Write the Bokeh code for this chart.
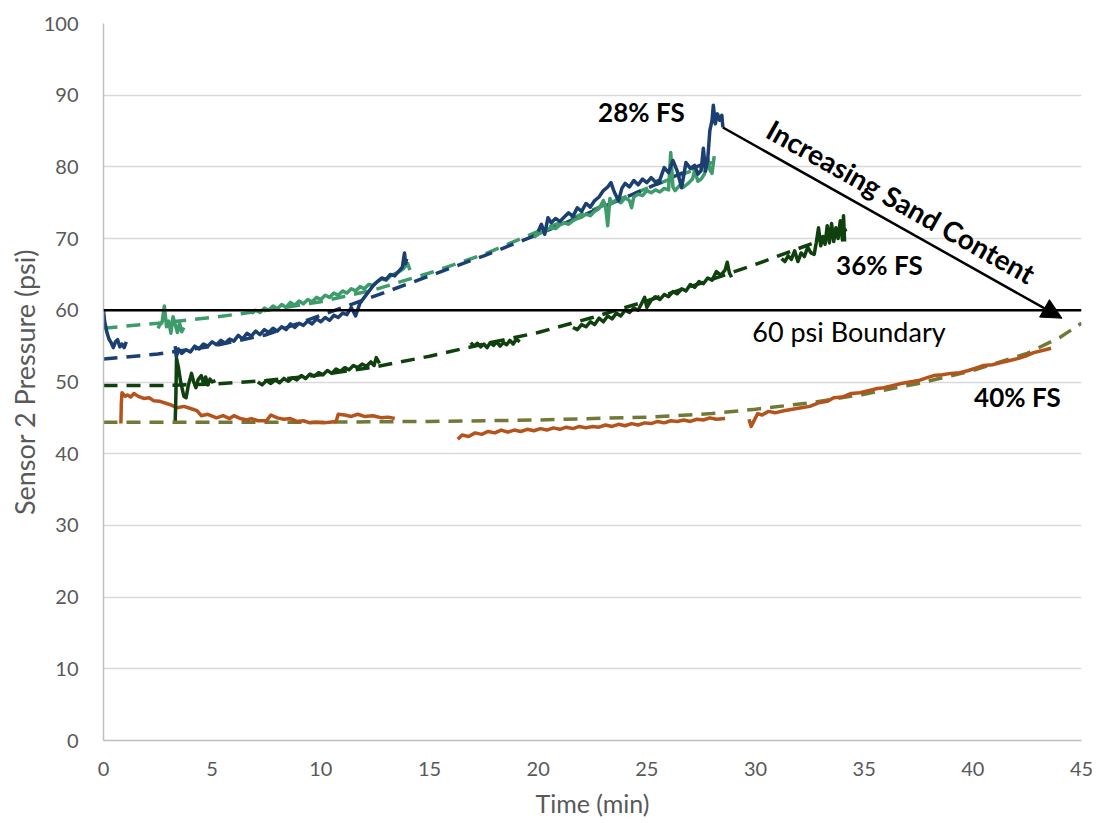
from bokeh.plotting import figure
from bokeh.models import Range1d, FixedTicker, Span, Arrow, NormalHead, Label
from bokeh.embed import file_html
from bokeh.resources import INLINE
import math

# ---------------- data ----------------
x_ticks = [0, 5, 10, 15, 20, 25, 30, 35, 40, 45]
y_ticks = [0, 10, 20, 30, 40, 50, 60, 70, 80, 90, 100]

boundary_psi = 60

# 28% FS (dark blue) measured segments
blue_x = [
    [0, 0.05, 0.15, 0.25, 0.35, 0.45, 0.55, 0.65, 0.75, 0.85, 0.95, 1.05],
    [3.3, 3.35, 3.45, 3.6, 3.8, 4.0, 4.2, 4.4, 4.6, 4.8, 5.0, 5.2, 5.4, 5.6, 5.8, 6.0, 6.2, 6.4, 6.6, 6.8,
     7.0, 7.2, 7.4, 7.6, 7.8, 8.0, 8.2, 8.4, 8.6, 8.8, 9.0, 9.2, 9.4, 9.6, 9.8, 10.0, 10.2, 10.4, 10.6,
     10.8, 11.0, 11.2, 11.4, 11.6, 11.8, 12.0, 12.2, 12.4, 12.6, 12.8, 13.0, 13.2, 13.4, 13.6, 13.75,
     13.85, 13.9, 13.95],
    [20.0, 20.15, 20.3, 20.45, 20.6, 20.8, 21.0, 21.2, 21.4, 21.6, 21.8, 22.0, 22.2, 22.4, 22.6, 22.8,
     23.0, 23.2, 23.35, 23.5, 23.7, 23.85, 24.0, 24.2, 24.4, 24.6, 24.8, 25.0, 25.2, 25.4, 25.6, 25.8,
     26.0, 26.2, 26.4, 26.6, 26.8, 27.0, 27.2, 27.35, 27.5, 27.6, 27.7, 27.8, 27.9, 28.0, 28.06, 28.15,
     28.25, 28.35, 28.45, 28.5],
]
blue_y = [
    [60, 58.5, 57.0, 56.0, 55.5, 54.8, 55.6, 55.9, 54.9, 55.3, 54.8, 55.6],
    [55.0, 53.5, 54.6, 54.0, 54.5, 54.2, 55.0, 54.6, 55.3, 55.0, 55.6, 55.2, 55.8, 55.4, 56.0, 55.7,
     56.5, 56.0, 56.8, 56.4, 57.1, 56.6, 57.3, 56.9, 57.5, 57.1, 57.7, 57.3, 58.1, 57.6, 58.2, 57.9,
     58.5, 58.1, 58.8, 58.4, 59.0, 58.6, 59.3, 59.0, 59.6, 59.4, 60.4, 59.2, 61.0, 61.8, 62.6, 63.4,
     64.0, 64.5, 64.3, 65.0, 64.8, 65.5, 66.0, 68.0, 66.5, 67.2],
    [71.0, 72.0, 70.6, 72.9, 72.2, 72.8, 72.4, 73.0, 73.6, 73.1, 74.3, 73.8, 74.9, 74.4, 75.3, 75.8,
     76.7, 77.2, 77.8, 76.5, 75.3, 77.0, 77.7, 77.2, 78.1, 77.5, 78.3, 77.8, 78.5, 77.9, 78.2, 79.9,
     79.2, 80.9, 79.4, 77.1, 80.6, 79.8, 80.2, 79.0, 79.5, 82.6, 79.4, 81.0, 85.1, 86.5, 88.6, 86.0,
     87.4, 86.5, 87.2, 85.5],
]

# second low-sand series (teal green) measured segments
teal_x = [
    [2.5, 2.6, 2.7, 2.8, 2.9, 3.0, 3.1, 3.2, 3.3, 3.4, 3.5, 3.6, 3.7],
    [6.8, 7.0, 7.2, 7.4, 7.6, 7.8, 8.0, 8.2, 8.4, 8.6, 8.8, 9.0, 9.2, 9.4, 9.6, 9.8, 10.0, 10.2, 10.4,
     10.6, 10.8, 11.0, 11.2, 11.4, 11.6, 11.8, 12.0, 12.2, 12.4, 12.6, 12.8, 13.0, 13.2, 13.4, 13.6,
     13.8, 14.0, 14.1],
    [19.8, 20.0, 20.2, 20.4, 20.6, 20.8, 21.0, 21.2, 21.4, 21.6, 21.8, 22.0, 22.2, 22.4, 22.6, 22.8,
     23.0, 23.1, 23.2, 23.3, 23.4, 23.6, 23.8, 24.0, 24.2, 24.3, 24.4, 24.6, 24.8, 25.0, 25.2, 25.4,
     25.6, 25.8, 26.0, 26.1, 26.2, 26.3, 26.5, 26.7, 26.9, 27.1, 27.2, 27.35, 27.5, 27.65, 27.8, 27.9,
     28.0, 28.1],
]
teal_y = [
    [57.5, 58.0, 58.4, 60.6, 57.7, 58.5, 56.8, 59.1, 58.0, 56.9, 58.2, 57.0, 57.6],
    [59.6, 60.0, 59.7, 60.3, 60.0, 60.6, 60.2, 60.8, 60.4, 61.1, 60.7, 61.3, 60.9, 61.5, 61.2, 61.8,
     61.5, 62.1, 61.8, 62.4, 62.1, 62.7, 62.4, 63.0, 62.7, 63.3, 63.0, 63.6, 63.5, 64.0, 64.4, 64.2,
     64.8, 65.1, 65.4, 65.8, 66.5, 65.6],
    [70.2, 70.6, 70.9, 71.2, 71.6, 71.4, 71.9, 72.2, 72.0, 72.5, 72.8, 73.0, 73.4, 73.2, 73.8, 74.2,
     75.3, 74.5, 71.8, 75.6, 74.9, 75.4, 75.0, 75.7, 75.3, 74.3, 75.8, 76.2, 76.0, 76.7, 76.4, 76.8,
     76.5, 77.0, 76.8, 82.0, 77.2, 76.7, 77.4, 77.2, 77.7, 78.3, 79.5, 78.0, 78.3, 79.0, 81.2, 79.6,
     79.1, 81.5],
]

# 36% FS (dark green) measured segments
green_x = [
    [3.3, 3.33, 3.36, 3.45, 3.55, 3.7, 3.8, 3.9, 4.05, 4.15, 4.25, 4.35, 4.5, 4.6, 4.7, 4.8, 4.9, 5.0, 5.15],
    [7.1, 7.3, 7.5, 7.7, 7.9, 8.1, 8.3, 8.5, 8.7, 8.9, 9.1, 9.3, 9.5, 9.7, 9.9, 10.1, 10.3, 10.5, 10.7,
     10.9, 11.1, 11.3, 11.5, 11.7, 11.9, 12.1, 12.3, 12.45, 12.55, 12.7],
    [16.9, 17.05, 17.2, 17.35, 17.5, 17.65, 17.8, 17.95, 18.1, 18.25, 18.4, 18.55, 18.7, 18.85, 19.0, 19.15],
    [21.6, 21.8, 22.0, 22.2, 22.4, 22.6, 22.8, 23.0, 23.2, 23.4, 23.6, 23.8, 24.0, 24.2, 24.4, 24.6,
     24.8, 24.9, 25.0, 25.2, 25.4, 25.6, 25.8, 26.0, 26.2, 26.4, 26.6, 26.8, 27.0, 27.2, 27.4, 27.6,
     27.8, 28.0, 28.2, 28.4, 28.6, 28.7, 28.8, 28.9],
    [31.2, 31.35, 31.5, 31.65, 31.8, 31.95, 32.1, 32.25, 32.4, 32.55, 32.7, 32.8, 32.9, 33.0, 33.1,
     33.2, 33.3, 33.4, 33.5, 33.6, 33.7, 33.8, 33.9, 34.0, 34.05, 34.1],
]
green_y = [
    [44.6, 48.0, 53.3, 52.0, 50.0, 48.0, 47.8, 49.5, 51.2, 50.0, 49.2, 50.3, 50.9, 49.8, 50.7, 49.6, 50.4, 50.0, 50.2],
    [50.0, 49.6, 50.2, 49.8, 50.3, 49.9, 50.5, 50.1, 50.6, 50.3, 50.9, 50.5, 51.1, 50.8, 51.3, 51.0,
     51.6, 51.2, 51.8, 51.5, 52.0, 51.7, 52.3, 52.0, 52.5, 52.2, 52.8, 52.3, 53.4, 52.6],
    [55.5, 55.0, 55.4, 54.9, 55.3, 54.8, 55.5, 55.1, 55.6, 55.0, 55.5, 55.2, 55.8, 55.3, 56.0, 55.6],
    [57.6, 57.3, 58.0, 57.7, 58.4, 58.0, 58.9, 58.4, 59.2, 58.8, 59.6, 59.2, 60.0, 59.7, 60.3, 60.0,
     61.2, 61.8, 60.4, 61.4, 61.9, 61.5, 62.2, 61.9, 62.6, 62.3, 63.0, 62.7, 63.6, 63.2, 64.0, 63.7,
     64.5, 64.2, 65.4, 64.9, 65.6, 66.7, 65.2, 64.6],
    [67.2, 66.8, 67.6, 67.1, 68.3, 66.8, 68.0, 67.5, 68.8, 68.0, 67.8, 69.5, 71.5, 69.0, 70.3, 69.2,
     71.8, 69.4, 72.1, 69.6, 71.5, 70.0, 72.5, 69.8, 73.2, 69.6],
]

# 40% FS (orange) measured segments
orange_x = [
    [0.8, 0.82, 0.85, 1.0, 1.1, 1.25, 1.4, 1.6, 1.85, 2.1, 2.3, 2.6, 2.9, 3.1, 3.4, 3.7, 4.0, 4.3, 4.5,
     4.8, 5.2, 5.5, 5.8, 6.0, 6.3, 6.6, 6.8, 7.1, 7.5, 7.7, 8.0, 8.3, 8.6, 8.9, 9.2, 9.5, 9.8, 10.1,
     10.4, 10.7, 10.8, 11.1, 11.4, 11.7, 12.0, 12.4, 12.8, 13.1, 13.4],
    [16.3, 16.5, 16.8, 17.1, 17.4, 17.7, 18.0, 18.3, 18.6, 18.9, 19.2, 19.5, 19.8, 20.1, 20.4, 20.7,
     21.0, 21.3, 21.6, 21.9, 22.2, 22.5, 22.8, 23.1, 23.4, 23.7, 24.0, 24.3, 24.6, 24.9, 25.2, 25.5,
     25.8, 26.1, 26.4, 26.7, 27.0, 27.3, 27.6, 27.9, 28.2, 28.6],
    [29.7, 29.8, 29.9, 30.1, 30.3, 30.6, 30.9, 31.3, 31.7, 32.1, 32.5, 32.9, 33.3, 33.6, 34.0, 34.4,
     34.8, 35.2, 35.6, 35.9, 36.3, 36.7, 37.1, 37.5, 37.9, 38.2, 38.6, 39.0, 39.4, 39.8, 40.2, 40.5,
     40.9, 41.3, 41.7, 42.1, 42.5, 42.8, 43.2, 43.6],
]
orange_y = [
    [44.2, 47.0, 48.5, 48.0, 48.2, 47.9, 48.4, 48.0, 47.7, 47.8, 47.4, 47.3, 47.0, 46.8, 46.4, 46.6,
     46.3, 46.0, 45.3, 45.5, 45.0, 45.3, 44.9, 45.3, 44.9, 44.7, 44.9, 44.6, 44.6, 45.4, 45.0, 44.8,
     44.9, 44.5, 44.6, 44.3, 44.4, 44.3, 44.4, 44.5, 45.5, 45.4, 45.2, 45.5, 45.2, 45.3, 45.0, 45.1, 44.9],
    [42.0, 42.6, 42.4, 42.9, 42.7, 43.1, 42.9, 43.3, 43.0, 43.3, 43.1, 43.4, 43.2, 43.5, 43.3, 43.6,
     43.4, 43.7, 43.5, 43.8, 43.6, 43.8, 43.7, 44.0, 43.8, 44.1, 43.9, 44.2, 44.0, 44.3, 44.2, 44.5,
     44.3, 44.6, 44.5, 44.7, 44.5, 44.8, 44.7, 45.0, 44.8, 44.9],
    [44.8, 43.8, 44.4, 45.6, 45.4, 45.9, 45.7, 46.0, 46.2, 46.4, 46.6, 47.1, 47.3, 47.8, 47.9, 48.4,
     48.5, 48.8, 49.1, 49.2, 49.5, 49.8, 50.0, 50.2, 50.6, 50.9, 51.0, 51.2, 51.3, 51.6, 52.0, 52.3,
     52.4, 52.7, 53.0, 53.3, 53.7, 54.1, 54.4, 54.7],
]

# trend (fit) curves
teal_fit_x = [0, 2.5, 5, 7.5, 10, 12.5, 15, 17.5, 20, 22.5, 25, 27.5, 28.3]
teal_fit_y = [57.5, 58.2, 59.0, 60.0, 61.2, 62.9, 65.2, 67.8, 71.0, 74.0, 77.0, 80.0, 81.0]
blue_fit_x = [0, 2.5, 5, 7.5, 10, 12.5, 15, 17.5, 20, 22.5, 25, 27.5, 28.0]
blue_fit_y = [53.2, 53.9, 55.0, 56.6, 59.3, 62.0, 64.8, 67.6, 70.6, 73.8, 77.0, 80.3, 81.0]
green_fit_x = [0, 2.5, 5, 7.5, 10, 12.5, 15, 17.5, 20, 22.5, 25, 27.5, 30, 32.5, 34.2]
green_fit_y = [49.5, 49.5, 49.7, 50.2, 51.0, 52.1, 53.6, 55.3, 56.9, 59.0, 61.3, 63.8, 66.4, 69.2, 71.3]
orange_fit_x = [0, 5, 10, 15, 20, 25, 28, 30, 32.5, 35, 37.5, 40, 42.5, 44, 45]
orange_fit_y = [44.4, 44.4, 44.4, 44.5, 44.7, 45.1, 45.6, 46.2, 47.1, 48.3, 49.8, 51.6, 54.0, 56.2, 58.2]

# annotations (data coordinates)
arrow_start = (28.5, 85.5)
arrow_end = (44.1, 58.9)
label_28 = ("28% FS", 24.75, 87.6)
label_36 = ("36% FS", 35.7, 66.3)
label_40 = ("40% FS", 42.05, 47.9)
label_boundary = ("60 psi Boundary", 34.3, 57.0)
label_arrow = ("Increasing Sand Content", 36.7, 75.2)

# ---------------- styling ----------------
BLUE = "#1B3F71"
TEAL = "#3E9B6B"
DKGREEN = "#0F400D"
ORANGE = "#B4531B"
OLIVE = "#737836"
GRAY = "#595959"
FONT = "Lato"

FRAME_W, FRAME_H = 978, 717

p = figure(width=1095, height=821, x_range=Range1d(0, 45), y_range=Range1d(0, 100),
           output_backend="svg", toolbar_location=None,
           min_border_left=103, min_border_right=14, min_border_top=23, min_border_bottom=81)
p.outline_line_color = None
p.background_fill_color = "white"
p.border_fill_color = "white"

p.xgrid.grid_line_color = None
p.ygrid.grid_line_color = "#D9D9D9"
p.ygrid.grid_line_width = 1.5

p.xaxis.ticker = FixedTicker(ticks=x_ticks)
p.yaxis.ticker = FixedTicker(ticks=y_ticks)
for ax in (p.xaxis, p.yaxis):
    ax.axis_line_color = "#BFBFBF"
    ax.axis_line_width = 1.5
    ax.major_tick_line_color = None
    ax.minor_tick_line_color = None
    ax.major_label_text_color = GRAY
    ax.major_label_text_font = FONT
    ax.major_label_text_font_size = "20px"
    ax.axis_label_text_color = GRAY
    ax.axis_label_text_font = FONT
    ax.axis_label_text_font_style = "normal"
p.xaxis.axis_label_text_font_size = "25px"
p.yaxis.axis_label_text_font_size = "27px"
p.xaxis.axis_label = "Time (min)"
p.yaxis.axis_label = "Sensor 2 Pressure (psi)"
p.xaxis.major_label_standoff = 15
p.yaxis.major_label_standoff = 19
p.xaxis.axis_label_standoff = 9
p.yaxis.axis_label_standoff = 0

# boundary line
p.add_layout(Span(location=boundary_psi, dimension="width", line_color="black", line_width=2.5))

# trend curves
dash = "14 9"
p.line(teal_fit_x, teal_fit_y, line_color=TEAL, line_width=3.5, line_dash=dash)
p.line(blue_fit_x, blue_fit_y, line_color=BLUE, line_width=3.5, line_dash=dash)
p.line(green_fit_x, green_fit_y, line_color=DKGREEN, line_width=3.5, line_dash=dash)
p.line(orange_fit_x, orange_fit_y, line_color=OLIVE, line_width=3.5, line_dash=dash)

# measured data
p.multi_line(xs=orange_x, ys=orange_y, line_color=ORANGE, line_width=3.5, line_join="round")
p.multi_line(xs=green_x, ys=green_y, line_color=DKGREEN, line_width=3.5, line_join="round")
p.multi_line(xs=teal_x, ys=teal_y, line_color=TEAL, line_width=3.5, line_join="round")
p.multi_line(xs=blue_x, ys=blue_y, line_color=BLUE, line_width=3.5, line_join="round")

# arrow
p.add_layout(Arrow(x_start=arrow_start[0], y_start=arrow_start[1], x_end=arrow_end[0], y_end=arrow_end[1],
                   line_color="black", line_width=2.5,
                   end=NormalHead(size=20, fill_color="black", line_color="black")))

dx_px = (arrow_end[0] - arrow_start[0]) * FRAME_W / 45
dy_px = (arrow_end[1] - arrow_start[1]) * FRAME_H / 100
arrow_angle = math.atan2(dy_px, dx_px)

for txt, x, y in (label_28, label_36, label_40):
    p.add_layout(Label(x=x, y=y, text=txt, text_font=FONT, text_font_size="26px", text_font_style="bold",
                       text_align="center", text_baseline="middle", text_color="black"))
p.add_layout(Label(x=label_boundary[1], y=label_boundary[2], text=label_boundary[0], text_font=FONT,
                   text_font_size="27px", text_align="center", text_baseline="middle", text_color="black"))
p.add_layout(Label(x=label_arrow[1], y=label_arrow[2], text=label_arrow[0], text_font=FONT,
                   text_font_size="28px", text_font_style="bold", angle=arrow_angle,
                   text_align="center", text_baseline="middle", text_color="black"))

open("out.html", "w").write(file_html(p, INLINE))
